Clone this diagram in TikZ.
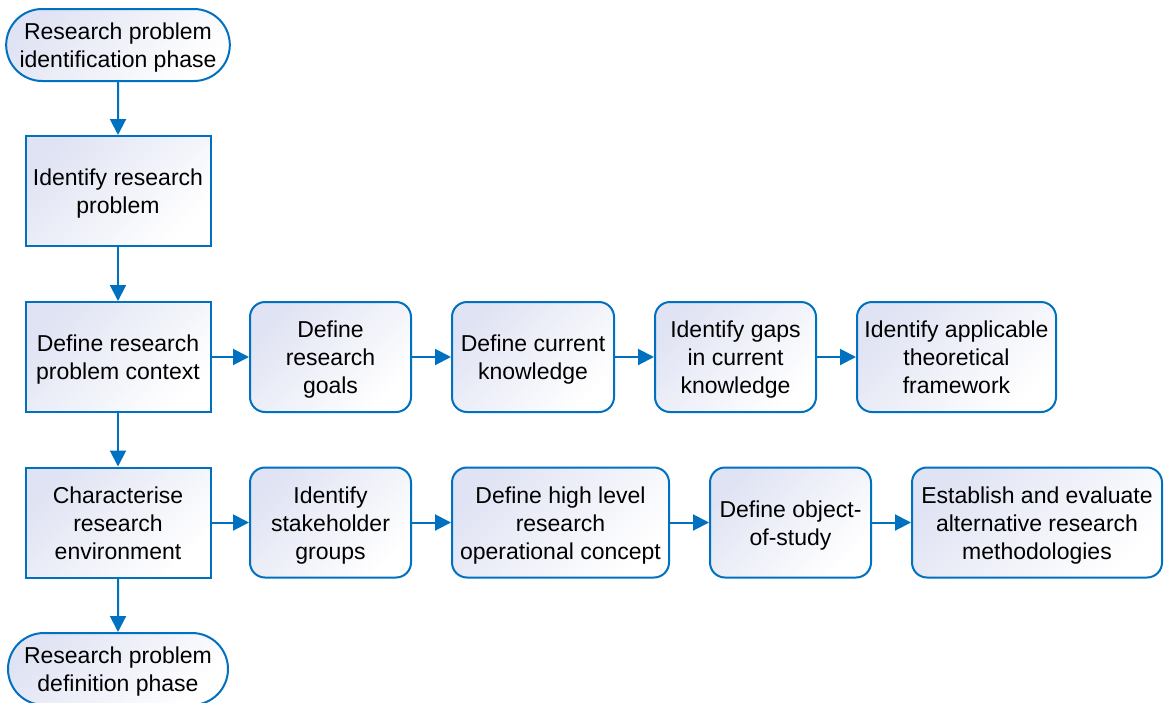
\documentclass[tikz,border=0pt]{standalone}
\usepackage{fontspec}
\setmainfont{Liberation Sans}
\usetikzlibrary{arrows.meta,shapes.misc}
\definecolor{blu}{RGB}{0,112,192}
\definecolor{lav}{RGB}{224,227,243}
\newcommand{\mylines}[1]{\raisebox{-3pt}[\height][\depth]{\begin{tabular}{@{}c@{}}#1\end{tabular}}}
\tikzset{
  base/.style={draw=blu, line width=2pt, top color=lav, bottom color=white, shading angle=45,
    font=\fontsize{23}{28}\selectfont, inner sep=0pt},
  term/.style={base, rounded rectangle, minimum width=220pt, minimum height=72pt},
  sqbox/.style={base, rectangle, minimum width=185pt, minimum height=110pt},
  rbox/.style={base, rectangle, rounded corners=15pt, minimum height=110pt},
  conn/.style={draw=blu, line width=2pt, -{Triangle[length=16pt,width=16pt]}}
}
\begin{document}
\begin{tikzpicture}[x=1pt,y=-1pt]
\useasboundingbox (0,0) rectangle (1164,702);
\clip (0,0) rectangle (1164,702);
\node[term] (start) at (118,45) {\mylines{Research problem\\identification phase}};
\node[sqbox] (b1) at (118,191) {\mylines{Identify research\\problem}};
\node[sqbox] (b2) at (118,357) {\mylines{Define research\\problem context}};
\node[sqbox] (b3) at (118,522.5) {\mylines{Characterise\\research\\environment}};
\node[term] (stop) at (118,669) {\mylines{Research problem\\definition phase}};

\node[rbox, minimum width=161pt] (g1) at (330.5,357) {\mylines{Define\\research\\goals}};
\node[rbox, minimum width=162pt] (g2) at (533,357) {\mylines{Define current\\knowledge}};
\node[rbox, minimum width=161pt] (g3) at (735.5,357) {\mylines{Identify gaps\\in current\\knowledge}};
\node[rbox, minimum width=199pt] (g4) at (956.5,357) {\mylines{Identify applicable\\theoretical\\framework}};

\node[rbox, minimum width=161pt] (h1) at (330.5,522.5) {\mylines{Identify\\stakeholder\\groups}};
\node[rbox, minimum width=217pt] (h2) at (560.5,522.5) {\mylines{Define high level\\research\\operational concept}};
\node[rbox, minimum width=161pt] (h3) at (790.5,522.5) {\mylines{Define object-\\of-study}};
\node[rbox, minimum width=250pt] (h4) at (1037,522.5) {\mylines{Establish and evaluate\\alternative research\\methodologies}};

\draw[conn] (start) -- (b1);
\draw[conn] (b1) -- (b2);
\draw[conn] (b2) -- (b3);
\draw[conn] (b3) -- (stop);
\draw[conn] (b2) -- (g1);
\draw[conn] (g1) -- (g2);
\draw[conn] (g2) -- (g3);
\draw[conn] (g3) -- (g4);
\draw[conn] (b3) -- (h1);
\draw[conn] (h1) -- (h2);
\draw[conn] (h2) -- (h3);
\draw[conn] (h3) -- (h4);
\end{tikzpicture}
\end{document}
